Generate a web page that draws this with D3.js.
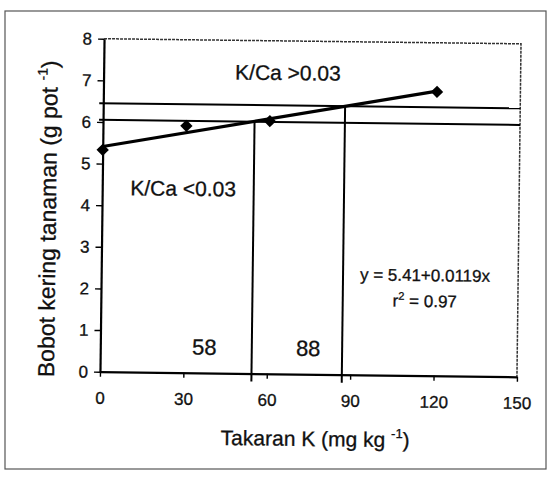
<!DOCTYPE html>
<html>
<head>
<meta charset="utf-8">
<script src="https://cdn.jsdelivr.net/npm/d3@7"></script>
<style>
  body { margin: 0; background: #fff; }
  svg { display: block; }
  text { font-family: "Liberation Sans", Arial, sans-serif; fill: #111; stroke: #111; stroke-width: 0.3; }
</style>
</head>
<body>
<svg id="chart" width="550" height="479"></svg>
<script>
// data
const dosesK = [0, 30, 60, 120];
const dryWeight = [5.33, 5.93, 6.07, 6.82];
// regression y = 5.41 + 0.0119x, drawn over the measured range
const fitX = [0, 120];
const fitY = [5.41, 6.838];
// K/Ca = 0.03 bands and the doses where they cut the fit
const thresholdY = [6.05, 6.45];
const thresholdX = [54.5, 87];
const thresholdLabels = ["58", "88"];
const xTicks = [0, 30, 60, 90, 120, 150];
const yTicks = [0, 1, 2, 3, 4, 5, 6, 7, 8];

const svg = d3.select("#chart");

// outer frame of the figure
svg.append("rect")
  .attr("x", 5).attr("y", 11)
  .attr("width", 541).attr("height", 458)
  .attr("fill", "none")
  .attr("stroke", "#555")
  .attr("stroke-width", 1.2);

const plot = { left: 102, right: 519, top: 41.25, bottom: 374.25 };
const cx = (plot.left + plot.right) / 2;
const cy = (plot.top + plot.bottom) / 2;

// the scan is turned a little clockwise
const g = svg.append("g").attr("transform", `rotate(0.7,${cx},${cy})`);

const x = d3.scaleLinear().domain([0, 150]).range([plot.left, plot.right]);
const y = d3.scaleLinear().domain([0, 8]).range([plot.bottom, plot.top]);

// plot area box (top / right)
g.append("path")
  .attr("d", `M${plot.left},${plot.top}H${plot.right}V${plot.bottom}`)
  .attr("fill", "none")
  .attr("stroke", "#333")
  .attr("stroke-width", 1.5)
  .attr("stroke-dasharray", "3,1");

// axes
const yAxis = g.append("g")
  .attr("transform", `translate(${plot.left},0)`)
  .call(d3.axisLeft(y).tickValues(yTicks).tickSize(6).tickSizeOuter(0).tickPadding(6));
const xAxis = g.append("g")
  .attr("transform", `translate(0,${plot.bottom})`)
  .call(d3.axisBottom(x).tickValues(xTicks).tickSize(5).tickSizeOuter(0).tickPadding(15));

[yAxis, xAxis].forEach((a) => {
  a.select(".domain").attr("stroke", "#000").attr("stroke-width", 2.2);
  a.selectAll(".tick line").attr("stroke", "#000").attr("stroke-width", 1.4);
  a.selectAll(".tick text")
    .attr("font-size", 17)
    .attr("font-family", '"Liberation Sans", Arial, sans-serif')
    .attr("fill", "#111");
});

// horizontal K/Ca lines
g.selectAll(".hline")
  .data(thresholdY)
  .enter()
  .append("line")
  .attr("class", "hline")
  .attr("x1", x(0) - 4)
  .attr("x2", x(150))
  .attr("y1", (d) => y(d))
  .attr("y2", (d) => y(d))
  .attr("stroke", "#000")
  .attr("stroke-width", 2);

// vertical drops to the axis
g.selectAll(".vline")
  .data(thresholdX)
  .enter()
  .append("line")
  .attr("class", "vline")
  .attr("x1", (d) => x(d))
  .attr("x2", (d) => x(d))
  .attr("y1", (d, i) => y(thresholdY[i]))
  .attr("y2", plot.bottom + 8)
  .attr("stroke", "#000")
  .attr("stroke-width", 2);

// regression line
g.append("path")
  .datum(fitX.map((v, i) => [v, fitY[i]]))
  .attr("d", d3.line().x((d) => x(d[0])).y((d) => y(d[1])))
  .attr("fill", "none")
  .attr("stroke", "#000")
  .attr("stroke-width", 3.2);

// diamond markers
g.selectAll(".pt")
  .data(dosesK.map((v, i) => [v, dryWeight[i]]))
  .enter()
  .append("path")
  .attr("class", "pt")
  .attr("d", d3.symbol(d3.symbolSquare, 76))
  .attr("transform", (d) => `translate(${x(d[0])},${y(d[1])}) rotate(45)`)
  .attr("fill", "#000");

// annotations
g.append("text")
  .attr("x", x(47.3)).attr("y", y(7.06))
  .attr("font-size", 21)
  .text("K/Ca >0.03");
g.append("text")
  .attr("x", x(10.1)).attr("y", y(4.25))
  .attr("font-size", 21)
  .text("K/Ca <0.03");

const labelAt = [37.4, 74.8];
g.selectAll(".tlabel")
  .data(thresholdLabels)
  .enter()
  .append("text")
  .attr("class", "tlabel")
  .attr("x", (d, i) => x(labelAt[i]))
  .attr("y", y(0.44))
  .attr("text-anchor", "middle")
  .attr("font-size", 22)
  .text((d) => d);

g.append("text")
  .attr("x", x(116.5)).attr("y", y(2.27))
  .attr("text-anchor", "middle")
  .attr("font-size", 17)
  .text("y = 5.41+0.0119x");
const r2 = g.append("text")
  .attr("x", x(116.5)).attr("y", y(1.65))
  .attr("text-anchor", "middle")
  .attr("font-size", 17);
r2.append("tspan").text("r");
r2.append("tspan").attr("font-size", 11).attr("dy", -7).text("2");
r2.append("tspan").attr("dy", 7).text(" = 0.97");

// axis titles
const xt = g.append("text")
  .attr("x", 318).attr("y", 446)
  .attr("text-anchor", "middle")
  .attr("font-size", 21);
xt.append("tspan").text("Takaran K (mg kg ");
xt.append("tspan").attr("font-size", 13).attr("dy", -9).text("-1");
xt.append("tspan").attr("dy", 9).text(")");

const yt = g.append("text")
  .attr("transform", "translate(56,222) rotate(-90)")
  .attr("text-anchor", "middle")
  .attr("font-size", 23);
yt.append("tspan").text("Bobot kering tanaman (g pot ");
yt.append("tspan").attr("font-size", 14).attr("dy", -10).text("-1");
yt.append("tspan").attr("dy", 10).text(")");
</script>
</body>
</html>
